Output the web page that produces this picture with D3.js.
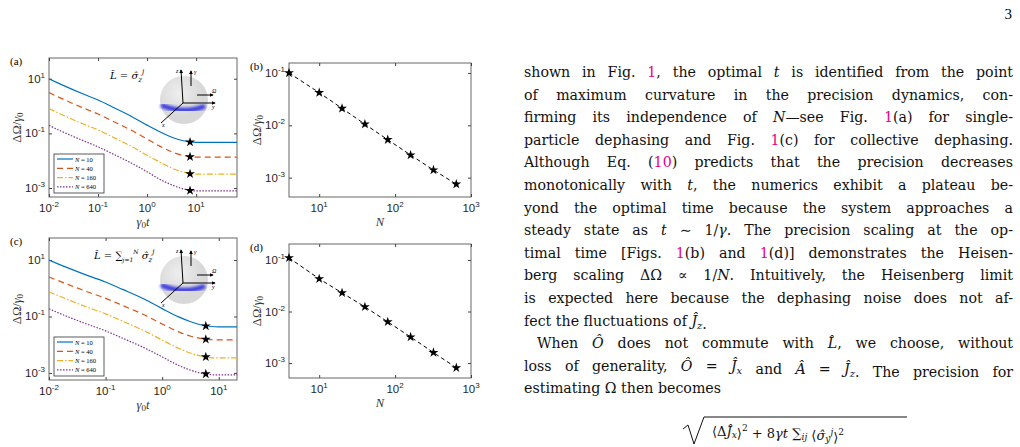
<!DOCTYPE html>
<html><head><meta charset="utf-8">
<script src="https://cdn.jsdelivr.net/npm/d3@7"></script>
<style>body{margin:0;background:#fff}svg{display:block}</style>
</head><body>
<svg id="c" width="1020" height="447"></svg>
<script>
// ---------- data ----------
const seriesN = [10, 40, 160, 640];
const colors = ["#0072BD", "#D95319", "#EDB120", "#7E2F8E"];
const dashes = [null, "6,4", "6,2,1.5,2", "1.5,1.5"];
const tA = [0.01,0.02,0.05,0.1,0.2,0.5,1,2,3.2,5,7,10,68];
const aN10  = [10,5.6,2.75,1.66,0.91,0.40,0.20,0.105,0.072,0.056,0.050,0.047,0.047];
const aN40  = [3.1,1.74,0.85,0.51,0.28,0.124,0.062,0.031,0.021,0.0162,0.0143,0.0135,0.0135];
const aN160 = [0.81,0.45,0.22,0.134,0.073,0.032,0.0158,0.0081,0.0053,0.0040,0.0035,0.0032,0.0032];
const aN640 = [0.195,0.109,0.054,0.032,0.0177,0.0078,0.0039,0.0019,0.0013,0.00097,0.00084,0.00078,0.00078];
const aStarT = 7.5;
const aStars = [0.048, 0.0138, 0.0033, 0.00080];
const tC = [0.01,0.02,0.05,0.1,0.2,0.5,1,2,3.2,5,7,10,21];
const cN10  = [10,5.6,2.75,1.66,0.91,0.40,0.19,0.095,0.065,0.050,0.045,0.043,0.043];
const cN40  = [2.5,1.45,0.72,0.44,0.245,0.11,0.054,0.028,0.020,0.0165,0.0152,0.0148,0.0148];
const cN160 = [0.74,0.42,0.205,0.124,0.068,0.030,0.0146,0.0073,0.0050,0.0039,0.0035,0.0034,0.0034];
const cN640 = [0.186,0.104,0.051,0.031,0.017,0.0075,0.0037,0.0018,0.00125,0.00097,0.00088,0.00085,0.00085];
const cStarT = 5.9;
const cStars = [0.046, 0.0155, 0.0037, 0.00092];
const Nvals = [4,10,20,40,80,160,320,640];
const bVals = [0.1,0.042,0.021,0.0105,0.0053,0.0027,0.0014,0.00075];
const dVals = [0.11,0.043,0.023,0.0123,0.0063,0.0032,0.0016,0.00081];
const xTicksT = [-2,-1,0,1];
const yTicksT = [1,-1,-3];
const xTicksN = [1,2,3];
const yTicksN = [-1,-2,-3];

const svg = d3.select("#c");
const defs = svg.append("defs");
const rg = defs.append("radialGradient").attr("id","sph").attr("cx","40%").attr("cy","35%");
rg.append("stop").attr("offset","0%").attr("stop-color","#eeeeee");
rg.append("stop").attr("offset","100%").attr("stop-color","#d8d8d8");
defs.append("filter").attr("id","blur").append("feGaussianBlur").attr("stdDeviation","1.6");
defs.append("marker").attr("id","arr").attr("viewBox","0 0 6 6").attr("refX",5).attr("refY",3)
  .attr("markerWidth",4).attr("markerHeight",4).attr("orient","auto")
  .append("path").attr("d","M0,0L6,3L0,6z").attr("fill","#000");

const tickFont = "Liberation Sans, Arial, sans-serif";
const mserif = "Liberation Serif, serif";
const bodyFont = "DejaVu Serif, Liberation Serif, serif";
const star = d3.symbol().type(d3.symbolStar).size(30);

function pow10Label(sel, e){
  sel.text(null);
  sel.append("tspan").text("10");
  sel.append("tspan").attr("dy","-5").attr("font-size","8px").text(e);
}

function panel(o){
  const g = svg.append("g");
  const x = d3.scaleLog().domain(o.xd).range([o.x0,o.x1]);
  const y = d3.scaleLog().domain(o.yd).range([o.y1,o.y0]);
  g.append("rect").attr("x",o.x0).attr("y",o.y0).attr("width",o.x1-o.x0).attr("height",o.y1-o.y0)
   .attr("fill","#fff").attr("stroke","#666").attr("stroke-width",1);
  const xt = o.xt.map(e=>Math.pow(10,e)), yt = o.yt.map(e=>Math.pow(10,e));
  const mk = (gen, tr, vals) => {
    const a = g.append("g").attr("transform",tr).call(gen.tickValues(vals).tickSizeInner(-3).tickSizeOuter(0).tickFormat(""));
    a.select(".domain").remove(); a.selectAll("line").attr("stroke","#444");
  };
  mk(d3.axisBottom(x), `translate(0,${o.y1})`, xt);
  mk(d3.axisTop(x), `translate(0,${o.y0})`, xt);
  mk(d3.axisLeft(y), `translate(${o.x0},0)`, yt);
  mk(d3.axisRight(y), `translate(${o.x1},0)`, yt);
  o.xt.forEach(e=>{
    const t = g.append("text").attr("x",x(Math.pow(10,e))).attr("y",o.y1+15).attr("text-anchor","middle")
      .attr("font-family",tickFont).attr("font-size","11.5px").attr("fill","#262626");
    pow10Label(t, e);
  });
  o.yt.forEach(e=>{
    const t = g.append("text").attr("x",o.x0-4).attr("y",y(Math.pow(10,e))+4).attr("text-anchor","end")
      .attr("font-family",tickFont).attr("font-size","11.5px").attr("fill","#262626");
    pow10Label(t, e);
  });
  g.append("text").attr("x",o.x0-39).attr("y",o.y0+7).attr("font-family",mserif).attr("font-size","11px").text(o.tag);
  const yl = g.append("text").attr("transform",`translate(${o.x0-28},${(o.y0+o.y1)/2}) rotate(-90)`)
    .attr("text-anchor","middle").attr("font-family",mserif).attr("font-size","12.5px").attr("fill","#333");
  yl.append("tspan").text("ΔΩ/");
  yl.append("tspan").attr("font-style","italic").text("γ");
  yl.append("tspan").attr("dy","2").attr("font-size","9px").text("0");
  const xl = g.append("text").attr("x",(o.x0+o.x1)/2).attr("y",o.y1+29).attr("text-anchor","middle")
    .attr("font-family",mserif).attr("font-size","12.5px").attr("font-style","italic").attr("fill","#333");
  if(o.xlab==="t"){
    xl.append("tspan").text("γ"); xl.append("tspan").attr("dy","2").attr("font-size","9px").attr("font-style","normal").text("0");
    xl.append("tspan").attr("dy","-2").text("t");
  } else xl.text("N");
  return {g,x,y};
}

function curvePanel(o, ts, series, starT, stars, title){
  const p = panel(o);
  const clip = "clip"+o.tag.replace(/\W/g,"");
  defs.append("clipPath").attr("id",clip).append("rect").attr("x",o.x0).attr("y",o.y0).attr("width",o.x1-o.x0).attr("height",o.y1-o.y0);
  const line = d3.line().curve(d3.curveMonotoneX).x(d=>p.x(d[0])).y(d=>p.y(d[1]));
  series.forEach((s,i)=>{
    p.g.append("path").attr("clip-path",`url(#${clip})`).attr("d",line(ts.map((t,j)=>[t,s[j]])))
      .attr("fill","none").attr("stroke",colors[i]).attr("stroke-width",1.2).attr("stroke-dasharray",dashes[i]);
  });
  stars.forEach(v=>p.g.append("path").attr("d",star()).attr("transform",`translate(${p.x(starT)},${p.y(v)})`).attr("fill","#000"));
  p.g.append("text").attr("x",title.x).attr("y",o.y0+21).attr("font-family",bodyFont).attr("font-size","10px").attr("font-style","italic").html(title.html);
  const cx = o.x0+135, cy = o.y0+42;
  const s = p.g.append("g");
  s.append("circle").attr("cx",cx).attr("cy",cy).attr("r",24).attr("fill","url(#sph)");
  s.append("path").attr("d",`M${cx-23},${cy+5} Q${cx},${cy+15} ${cx+21},${cy+6}`).attr("stroke","#2a2ae0").attr("stroke-width",5).attr("fill","none").attr("filter","url(#blur)").attr("opacity",0.9);
  const ox = cx-1, oy = cy+3;
  const ar = (x1,y1,x2,y2)=>s.append("line").attr("x1",x1).attr("y1",y1).attr("x2",x2).attr("y2",y2).attr("stroke","#000").attr("stroke-width",1).attr("marker-end","url(#arr)");
  ar(ox,oy,ox-2,oy-33); ar(ox,oy,ox+32,oy);
  s.append("line").attr("x1",ox).attr("y1",oy).attr("x2",ox-22).attr("y2",oy+20).attr("stroke","#000");
  ar(ox+8,oy-17,ox+8,oy-32); ar(ox+14,oy-8,ox+30,oy-8);
  const lab=(x,y,t)=>s.append("text").attr("x",x).attr("y",y).attr("font-family",mserif).attr("font-size","6px").attr("font-style","italic").text(t);
  lab(ox-7,oy-30,"z"); lab(ox+11,oy-29,"γ"); lab(ox+29,oy-10,"Ω"); lab(ox+29,oy+6,"y"); lab(ox-21,oy+24,"x");
  const lx = o.x0+5, ly = o.y1-43;
  p.g.append("rect").attr("x",lx).attr("y",ly).attr("width",50).attr("height",39).attr("fill","#fff").attr("stroke","#333").attr("stroke-width",0.8);
  seriesN.forEach((n,i)=>{
    const yy = ly+5+i*9.3;
    p.g.append("line").attr("x1",lx+3).attr("x2",lx+19).attr("y1",yy).attr("y2",yy).attr("stroke",colors[i]).attr("stroke-width",1.2).attr("stroke-dasharray",dashes[i]);
    p.g.append("text").attr("x",lx+21).attr("y",yy+2.5).attr("font-family",mserif).attr("font-size","6.5px")
      .html(`<tspan font-style="italic">N</tspan> = ${n}`);
  });
}

function scalePanel(o, vals){
  const p = panel(o);
  p.g.append("path").attr("d",d3.line().x((d,i)=>p.x(Nvals[i])).y(d=>p.y(d))(vals))
    .attr("fill","none").attr("stroke","#000").attr("stroke-width",1).attr("stroke-dasharray","4,3");
  vals.forEach((v,i)=>p.g.append("path").attr("d",star()).attr("transform",`translate(${p.x(Nvals[i])},${p.y(v)})`).attr("fill","#000"));
}

const sigma = `σ̂<tspan dy="3" font-size="7px">z</tspan><tspan dy="-8" font-size="7px">j</tspan>`;
curvePanel({x0:49,x1:237,y0:58,y1:197,xd:[0.01,68],yd:[Math.pow(10,-3.33),Math.pow(10,1.76)],xt:xTicksT,yt:yTicksT,tag:"(a)",xlab:"t"},
  tA,[aN10,aN40,aN160,aN640],aStarT,aStars,
  {x:110, html:`L̂<tspan font-style="normal"> = </tspan>${sigma}`});
scalePanel({x0:289,x1:471,y0:63,y1:197,xd:[4,1000],yd:[Math.pow(10,-3.37),Math.pow(10,-0.81)],xt:xTicksN,yt:yTicksN,tag:"(b)",xlab:"N"},bVals);
curvePanel({x0:49,x1:237,y0:238,y1:380,xd:[0.01,21],yd:[Math.pow(10,-3.25),Math.pow(10,1.78)],xt:xTicksT,yt:yTicksT,tag:"(c)",xlab:"t"},
  tC,[cN10,cN40,cN160,cN640],cStarT,cStars,
  {x:94, html:`L̂<tspan font-style="normal"> = ∑</tspan><tspan dy="3" font-size="6px">j=1</tspan><tspan dy="-8" font-size="6px">N</tspan><tspan dy="5"> </tspan>${sigma}`});
scalePanel({x0:289,x1:471,y0:244,y1:378,xd:[4,1000],yd:[Math.pow(10,-3.29),Math.pow(10,-0.69)],xt:xTicksN,yt:yTicksN,tag:"(d)",xlab:"N"},dVals);

// ---------- body text ----------
const P = s => `<tspan fill="#e6007e">${s}</tspan>`;
const I = s => `<tspan font-style="italic">${s}</tspan>`;
const sub = (s,d=3) => `<tspan font-style="italic" font-size="0.7em" dy="${d}">${s}</tspan><tspan dy="-${d}"></tspan>`;
const lines = [
 [`shown in Fig. ${P("1")}, the optimal ${I("t")} is identified from the point`,1,0],
 [`of maximum curvature in the precision dynamics, con-`,1,0],
 [`firming its independence of ${I("N")}—see Fig. ${P("1")}(a) for single-`,1,0],
 [`particle dephasing and Fig. ${P("1")}(c) for collective dephasing.`,1,0],
 [`Although Eq. (${P("10")}) predicts that the precision decreases`,1,0],
 [`monotonically with ${I("t")}, the numerics exhibit a plateau be-`,1,0],
 [`yond the optimal time because the system approaches a`,1,0],
 [`steady state as ${I("t")} ∼ 1/${I("γ")}. The precision scaling at the op-`,1,0],
 [`timal time [Figs. ${P("1")}(b) and ${P("1")}(d)] demonstrates the Heisen-`,1,0],
 [`berg scaling ΔΩ ∝ 1/${I("N")}. Intuitively, the Heisenberg limit`,1,0],
 [`is expected here because the dephasing noise does not af-`,1,0],
 [`fect the fluctuations of ${I("Ĵ")}${sub("z")}.`,0,0],
 [`When ${I("Ô")} does not commute with ${I("L̂")}, we choose, without`,1,13],
 [`loss of generality, ${I("Ô")} = ${I("Ĵ")}${sub("x")} and ${I("Â")} = ${I("Ĵ")}${sub("z")}. The precision for`,1,0],
 [`estimating Ω then becomes`,0,0]
];
const texts = lines.map((l,i)=> svg.append("text").attr("x",524+l[2]).attr("y",77+i*22.6)
    .attr("font-family",bodyFont).attr("font-size","14px").attr("fill","#111").html(l[0]));
let fs = 14.2;
lines.forEach((l,i)=>{ if(l[1]){ const w = texts[i].node().getComputedTextLength(); fs = Math.min(fs, 14*(489-l[2])/w*0.99); } });
texts.forEach((t,i)=>{
  const l = lines[i];
  t.attr("font-size", fs.toFixed(2)+"px");
  if(l[1]){
    const w = t.node().getComputedTextLength();
    const nsp = (t.node().textContent.match(/ /g)||[]).length;
    const target = 489-l[2];
    if(nsp>0 && w<target) t.attr("word-spacing", ((target-w)/nsp).toFixed(2));
  }
});
// equation fragment
svg.append("path").attr("d","M683,429 L688,425 L694,444 L704,417 L907,417").attr("fill","none").attr("stroke","#111").attr("stroke-width",1);
svg.append("text").attr("x",712).attr("y",436).attr("font-family",bodyFont).attr("font-size","13px").attr("fill","#111")
  .html(`⟨Δ${I("Ĵ")}${sub("x",2)}⟩<tspan dy="-7" font-size="9px">2</tspan><tspan dy="7"> + 8</tspan>${I("γt")} ∑${sub("ij",2)} ⟨${I("σ̂")}${sub("y",2)}<tspan font-size="9px" font-style="italic" dy="-7">j</tspan><tspan dy="7">⟩</tspan><tspan dy="-7" font-size="9px">2</tspan>`);
svg.append("text").attr("x",1012).attr("y",19).attr("text-anchor","end").attr("font-family",mserif).attr("font-size","15px").text("3");
</script>
</body></html>
